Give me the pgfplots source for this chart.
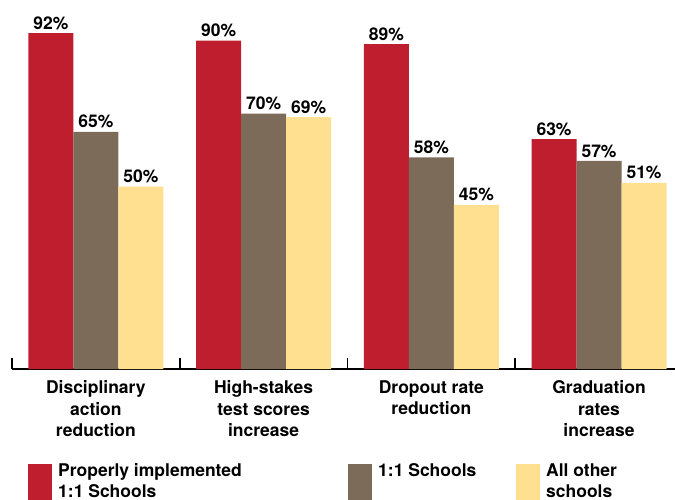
\documentclass[border=0pt]{standalone}
\usepackage{fontspec}
\setmainfont{TeX Gyre Heros}
\usepackage{pgfplots}
\pgfplotsset{compat=1.18}

\definecolor{cred}{RGB}{190,30,45}
\definecolor{cbrown}{RGB}{124,107,88}
\definecolor{cyellow}{RGB}{255,224,144}

\newcommand{\lgtext}[2]{\makebox[#1][l]{\hspace{6bp}\begin{tabular}{@{}l@{}}#2\end{tabular}}}

\begin{document}
\begin{tikzpicture}
\begin{axis}[
    scale only axis,
    width=663bp, height=369bp,
    xmin=-0.5, xmax=3.453,
    ymin=0, ymax=101.1,
    ybar=0pt, bar width=45bp,
    axis x line*=bottom,
    hide y axis,
    axis line style={line width=1.6bp, black},
    xtick={0,1,2,3},
    xticklabels={{Disciplinary\\action\\reduction},{High-stakes\\test scores\\increase},{Dropout rate\\reduction},{Graduation\\rates\\increase}},
    major tick length=0pt,
    minor xtick={-0.5,0.5,1.5,2.5},
    minor tick length=11bp,
    tick align=inside,
    minor tick style={line width=1.6bp, black},
    x tick label style={align=center, yshift=-8bp, font=\fontsize{17.5bp}{21.5bp}\selectfont\bfseries},
    clip=false,
    nodes near coords={\pgfmathprintnumber[assume math mode=true]{\pgfplotspointmeta}\%},
    every node near coord/.append style={font=\fontsize{17.5bp}{20bp}\selectfont\bfseries, black},
    legend columns=3,
    legend cell align=left,
    legend style={at={(axis description cs:0,0)}, anchor=north west,
        xshift=16bp, yshift=-93bp, draw=none, fill=none, inner sep=0pt,
        column sep=0pt,
        /tikz/every even column/.style={column sep=0pt},
        /tikz/every odd column/.style={column sep=0pt},
        nodes={inner sep=0pt, text depth={}, text height={}},
        font=\fontsize{17.5bp}{20.5bp}\selectfont\bfseries},
    legend image code/.code={\fill[#1] (0bp,-19bp) rectangle (24bp,19bp);},
]
\addplot[fill=cred, draw=none] coordinates {(0,92) (1,90) (2,89) (3,63)};
\addplot[fill=cbrown, draw=none] coordinates {(0,65) (1,70) (2,58) (3,57)};
\addplot[fill=cyellow, draw=none] coordinates {(0,50) (1,69) (2,45) (3,51)};
\legend{\lgtext{296bp}{Properly implemented\\1:1 Schools},\lgtext{144bp}{1:1 Schools\\\strut},\lgtext{130bp}{All other\\schools}}
\path (rel axis cs:0,0) coordinate (O);
\end{axis}
\pgfresetboundingbox
\path ([xshift=-12bp,yshift=-131bp]O) rectangle ++(675bp,500bp);
\end{tikzpicture}
\end{document}
